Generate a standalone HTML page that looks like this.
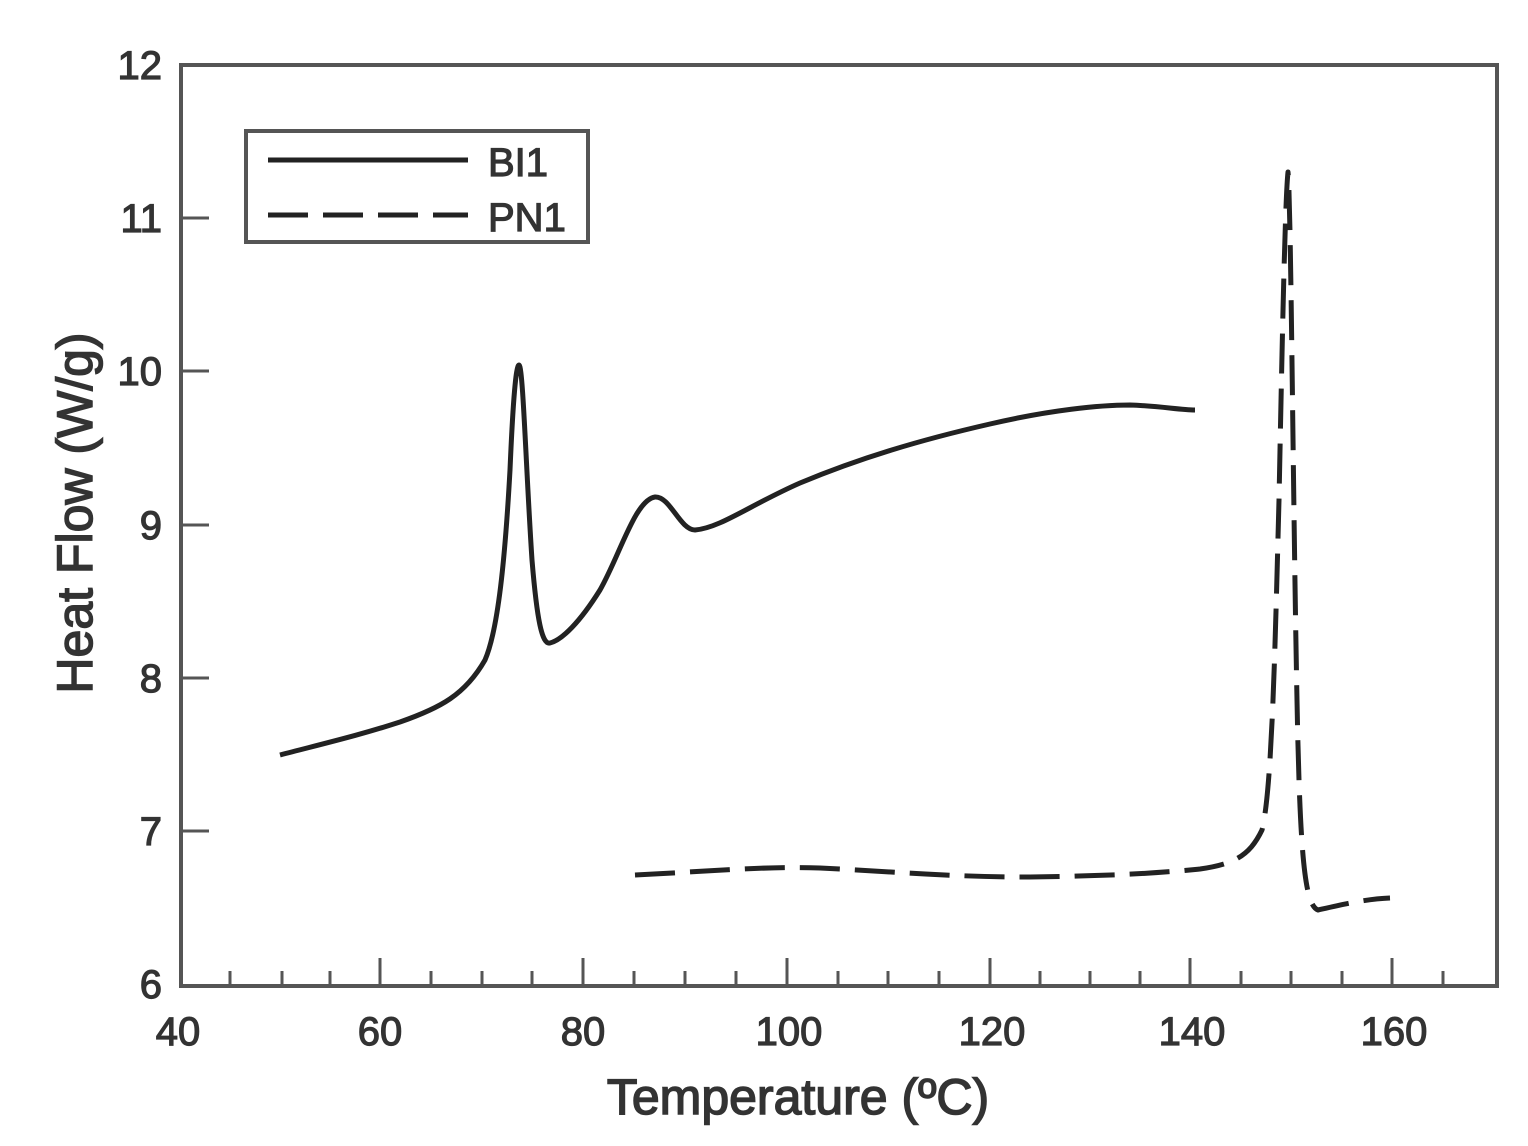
<!DOCTYPE html>
<html><head><meta charset="utf-8"><style>
html,body{margin:0;padding:0;background:#fff;}
svg{display:block;}
text{font-family:"Liberation Sans",Arial,sans-serif;fill:#333;}
</style></head><body>
<svg width="1528" height="1146" viewBox="0 0 1528 1146" xmlns="http://www.w3.org/2000/svg">
<rect x="181" y="65" width="1316" height="921" fill="none" stroke="#555" stroke-width="4"/>
<g stroke="#555" stroke-width="3">
<path d="M230 986v-15M282 986v-15M330 986v-15M380 986v-28M431 986v-15M482 986v-15M532 986v-15M583 986v-28M634 986v-15M685 986v-15M736 986v-15M787 986v-28M838 986v-15M888 986v-15M939 986v-15M990 986v-28M1040 986v-15M1090 986v-15M1140 986v-15M1190 986v-28M1241 986v-15M1291 986v-15M1342 986v-15M1392 986v-28M1443 986v-15"/>
<path d="M181 218h28M181 371h28M181 525h28M181 678h28M181 831h28"/>
</g>
<g font-size="40" text-anchor="middle" stroke="#333" stroke-width="1.2">
<text x="178" y="1045">40</text><text x="380" y="1045">60</text><text x="583" y="1045">80</text><text x="789" y="1045">100</text><text x="992" y="1045">120</text><text x="1192" y="1045">140</text><text x="1394" y="1045">160</text>
</g>
<g font-size="40" text-anchor="end" stroke="#333" stroke-width="1.2">
<text x="162" y="79">12</text><text x="162" y="232">11</text><text x="162" y="385">10</text><text x="162" y="539">9</text><text x="162" y="692">8</text><text x="162" y="845">7</text><text x="162" y="998">6</text>
</g>
<text x="798" y="1114" font-size="50" text-anchor="middle" stroke="#333" stroke-width="1.5">Temperature (ºC)</text>
<text transform="translate(92,513) rotate(-90)" font-size="50" text-anchor="middle" stroke="#333" stroke-width="1.5">Heat Flow (W/g)</text>
<rect x="246" y="131" width="342" height="111" fill="none" stroke="#555" stroke-width="4"/>
<path d="M268 160H468" stroke="#222" stroke-width="5"/>
<path d="M268 215H468" stroke="#222" stroke-width="5" stroke-dasharray="40,15"/>
<text x="488" y="176" font-size="40" stroke="#333" stroke-width="1.2">BI1</text>
<text x="488" y="231" font-size="40" stroke="#333" stroke-width="1.2">PN1</text>
<path fill="none" stroke="#222" stroke-width="5" stroke-linejoin="round" d="M280 755 C330 742 360 735 400 722 C440 708 465 695 485 660 C498 630 505 560 510 470 C513 400 516 365 519 365 C523 365 526 470 532 560 C537 620 542 645 550 643 C562 640 580 622 600 590 C620 555 635 500 655 497 C670 496 680 530 695 530 C720 528 750 505 800 483 C860 458 920 440 990 424 C1050 410 1100 405 1130 405 C1160 406 1180 410 1195 410"/>
<path fill="none" stroke="#222" stroke-width="5" stroke-dasharray="40,15" stroke-linejoin="round" d="M635 875 C700 872 760 866 820 868 C900 872 950 877 1030 877 C1100 876 1150 874 1200 869 C1235 864 1250 855 1262 830 C1272 790 1275 650 1279 500 C1282 350 1285 200 1288 172 C1291 200 1293 500 1297 700 C1300 860 1305 905 1318 910 C1340 905 1365 899 1390 898"/>
</svg>
</body></html>
